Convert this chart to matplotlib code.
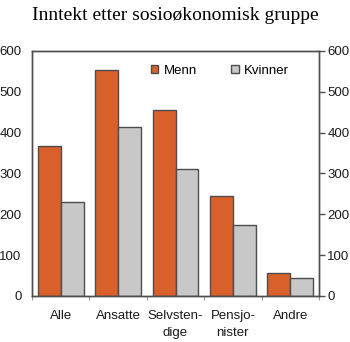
import numpy as np
import matplotlib
matplotlib.use("Agg")
import matplotlib.pyplot as plt

grupper = ["Alle", "Ansatte", "Selvsten-\ndige", "Pensjo-\nnister", "Andre"]
menn = [368, 554, 456, 245, 57]
kvinner = [230, 413, 311, 175, 45]

oransje = "#D95F2B"
gra = "#C8C8C8"
kant = "#4D4D4D"
tekst = "#1a1a1a"

plt.rcParams["font.family"] = ["Liberation Sans", "DejaVu Sans"]

fig = plt.figure(figsize=(3.5, 3.42), dpi=100)
ax = fig.add_axes([32 / 350, 1 - 296 / 342, 287 / 350, 245 / 342])

x = np.arange(len(grupper))
b = 0.4
ax.bar(x - b / 2, menn, b, color=oransje, edgecolor=kant, linewidth=1, label="Menn")
ax.bar(x + b / 2, kvinner, b, color=gra, edgecolor=kant, linewidth=1, label="Kvinner")

ax.set_xlim(-0.5, len(grupper) - 0.5)
ax.set_ylim(0, 600)
ax.set_yticks(range(0, 601, 100))
ax.tick_params(axis="y", length=0, pad=7.5, labelsize=9.5, colors=tekst)

# høyre akse med tikker utover
ax2 = ax.twinx()
ax2.set_ylim(ax.get_ylim())
ax2.set_yticks(range(0, 601, 100))
ax2.tick_params(axis="y", length=4, width=1, color=kant, pad=2,
                labelsize=9.5, labelcolor=tekst)

ax.set_xticks(x)
ax.set_xticklabels(grupper, linespacing=1.55)
ax.set_xticks(np.arange(len(grupper) + 1) - 0.5, minor=True)
ax.tick_params(axis="x", which="major", length=0, pad=10, labelsize=9.5, colors=tekst)
ax.tick_params(axis="x", which="minor", length=3, width=0.8, color="#999999")

for a in (ax, ax2):
    for s in a.spines.values():
        s.set_color(kant)
        s.set_linewidth(1)

ax.legend(loc="center", bbox_to_anchor=(0.655, 1 - 20 / 245), ncol=2,
          frameon=False, fontsize=9.5, handlelength=0.55, handleheight=0.55,
          handletextpad=0.4, columnspacing=2.6, borderpad=0)

fig.suptitle("Inntekt etter sosioøkonomisk gruppe", family="Liberation Serif",
             fontsize=14, y=0.98)

fig.savefig("out.png", dpi=100)
